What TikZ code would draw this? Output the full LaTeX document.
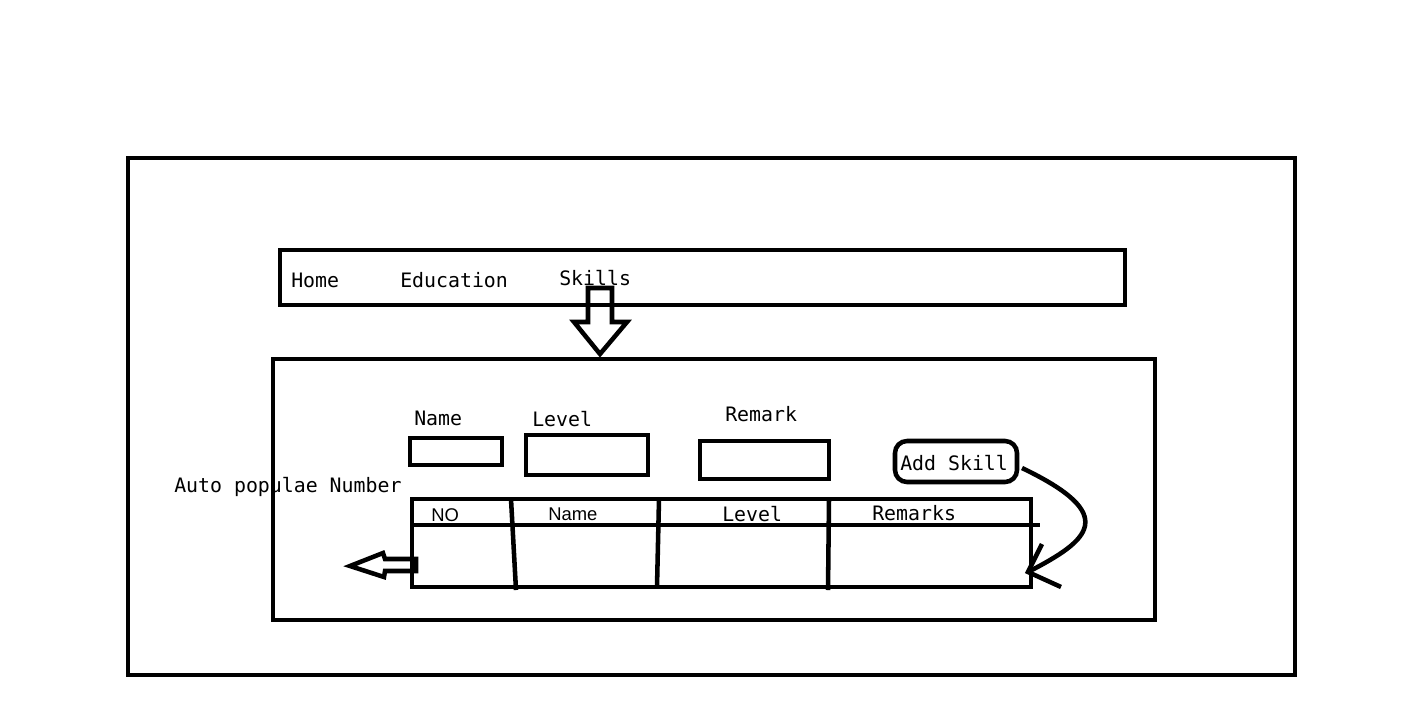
\documentclass[tikz,border=0pt]{standalone}
\usepackage{fontspec}
\setmonofont{DejaVu Sans Mono}
\newfontfamily\hdrsans{Liberation Sans}
\usetikzlibrary{fit}
\tikzset{
  px/.style={x=0.75pt,y=-0.75pt},
  box/.style={draw,line width=3.4pt,inner sep=0pt,rounded corners=0pt},
  lbl/.style={font=\ttfamily\fontsize{14.9pt}{17pt}\selectfont,inner sep=0pt,anchor=west},
  hdr/.style={font=\hdrsans\fontsize{13.8pt}{16pt}\selectfont,inner sep=0pt,anchor=west},
  stroke/.style={line width=3.4pt,line join=miter},
}
\begin{document}
\begin{tikzpicture}[px]
\useasboundingbox (0,0) rectangle (1416,726);
% frames
\node[box,fit={(128,158) (1295,675)}] (outer) {};
\node[box,fit={(280,250) (1125,305)}] (nav) {};
\node[box,fit={(273,359) (1155,620)}] (panel) {};
% nav labels
\node[lbl] (home) at (291,280) {Home};
\node[lbl] (edu) at (400,280) {Education};
\node[lbl] (skills) at (559,278) {Skills};
% down arrow
\coordinate (dtip) at (600,354);
\draw[stroke] (588,288) -- (612,288) -- (612,322) -- (627,322) -- (dtip) -- (574,322) -- (588,322) -- cycle;
% form labels and inputs
\node[lbl] (lname) at (414,418) {Name};
\node[lbl] (llevel) at (532,419) {Level};
\node[lbl] (lremark) at (725,414) {Remark};
\node[box,fit={(410,438) (502,465)}] (inname) {};
\node[box,fit={(526,435) (648,475)}] (inlevel) {};
\node[box,fit={(700,441) (829,479)}] (inremark) {};
\node[box,rounded corners=9pt,fit={(895,441) (1017,482)}] (add) {};
\node[lbl] (addtxt) at (900,463) {Add Skill};
\node[lbl] (auto) at (174,487) {Auto populae Number};
% table
\node[box,fit={(412,499) (1031,587)}] (table) {};
\coordinate (hl) at (412,525);
\coordinate (hr) at (1040,525);
\draw[stroke] (hl) -- (hr);
\draw[stroke] (511,499) -- (516,590);
\draw[stroke] (659,499) -- (657,587);
\draw[stroke] (829,499) -- (828,590);
\node[hdr] (hno) at (431,515) {NO};
\node[hdr] (hname) at (548,514) {Name};
\node[lbl] (hlevel) at (722,514) {Level};
\node[lbl] (hrem) at (872,513) {Remarks};
% left arrow
\coordinate (ltip) at (350,566);
\draw[stroke] (416,559) -- (385,559) -- (383,553) -- (ltip) -- (384,577) -- (385,571) -- (416,571) -- cycle;
% curved arrow
\coordinate (cstart) at (1022,468);
\coordinate (ctip) at (1028,572);
\draw[stroke] (cstart) .. controls (1120,515) and (1090,540) .. (ctip);
\draw[stroke] (1042,544) -- (ctip) -- (1061,587);
\end{tikzpicture}
\end{document}
